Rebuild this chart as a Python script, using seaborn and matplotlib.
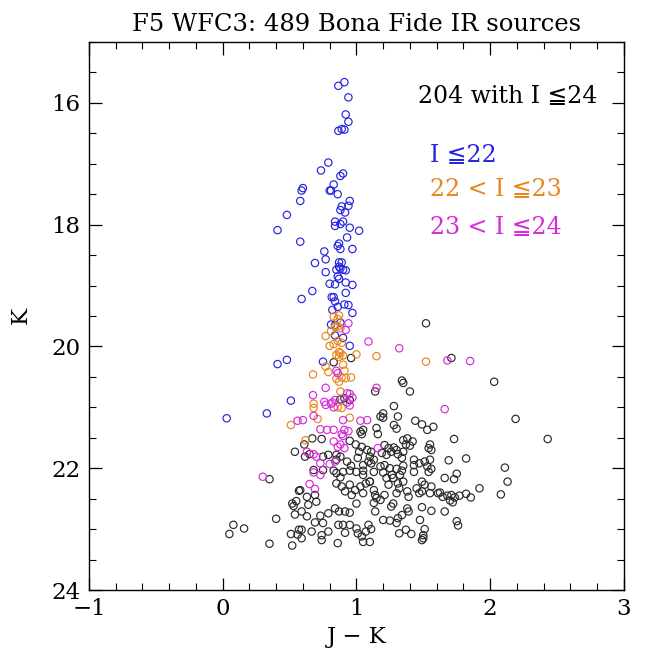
import matplotlib
matplotlib.use("Agg")
import matplotlib.pyplot as plt
import seaborn as sns
import pandas as pd
from matplotlib.ticker import MultipleLocator, FixedLocator

# ---------------- data (J-K, K) ----------------
blue_jk = [0.91,0.865,0.94,0.92,0.94,0.865,0.89,0.91,0.79,0.735,0.88,0.90,0.83,0.60,0.59,0.80,0.81,0.86,0.58,0.95,
           0.94,0.89,0.88,0.915,0.48,0.84,0.90,0.84,0.88,0.95,0.41,1.02,
           0.58,0.93,0.87,0.86,0.88,0.76,0.97,0.77,0.69,0.87,0.89,0.87,0.88,0.85,0.92,0.90,0.77,0.86,0.87,0.80,0.84,
           0.92,0.97,0.67,0.59,0.92,0.815,0.83,0.84,0.91,0.94,0.86,0.82,0.97,
           0.81,0.84,0.88,0.84,0.90,0.95,0.75,0.48,0.41,0.51,0.03,0.33]
blue_k = [15.66,15.72,15.91,16.19,16.31,16.46,16.43,16.44,16.98,17.11,17.20,17.16,17.34,17.40,17.44,17.44,17.44,17.50,17.61,17.61,
          17.69,17.70,17.76,17.80,17.84,17.95,17.95,18.02,17.99,18.05,18.09,18.10,
          18.28,18.21,18.31,18.35,18.40,18.44,18.40,18.57,18.63,18.62,18.62,18.69,18.72,18.74,18.75,18.74,18.78,18.85,18.89,18.97,18.98,
          18.95,18.99,19.09,19.22,19.12,19.19,19.19,19.26,19.31,19.32,19.35,19.40,19.45,
          19.64,19.65,19.61,19.82,19.86,19.99,20.25,20.22,20.29,20.89,21.18,21.10]

orange_jk = [0.83,0.87,0.86,0.84,0.86,0.88,0.81,0.77,0.86,0.89,0.83,1.15,0.80,0.87,0.88,0.85,0.90,0.87,1.00,0.77,
             0.79,0.90,0.91,0.675,0.85,0.89,0.92,0.96,0.87,0.88,1.52,0.51,0.68,0.68,0.86,0.89,0.71,0.95,0.62]
orange_k = [19.51,19.49,19.55,19.68,19.67,19.70,19.75,19.83,19.91,19.94,19.96,20.16,19.99,20.09,20.11,20.14,20.15,20.17,20.13,20.33,
            20.42,20.30,20.40,20.46,20.53,20.51,20.52,20.51,20.58,20.74,20.25,21.29,20.94,21.01,21.00,21.01,21.19,21.17,21.54]

magenta_jk = [0.94,0.92,1.09,0.85,0.86,0.77,0.93,0.95,1.15,0.675,1.32,1.68,1.85,1.66,0.56,0.30,
              0.76,0.77,0.82,0.84,0.83,0.81,0.93,0.95,0.97,0.60,0.68,0.90,1.03,1.08,0.73,0.78,0.83,0.91,0.94,0.89,
              0.90,0.83,0.88,0.86,0.91,0.63,0.68,0.70,0.73,0.80,0.84,0.68,0.73,0.65,0.69,1.16]
magenta_k = [19.62,19.73,19.92,20.40,20.44,20.68,20.77,20.78,20.68,20.80,20.03,20.23,20.24,21.03,21.22,22.14,
             20.91,20.96,20.92,20.88,21.00,20.94,20.92,20.97,20.84,21.21,21.14,21.21,21.22,21.21,21.36,21.37,21.37,21.37,21.39,21.44,
             21.47,21.56,21.61,21.65,21.67,21.73,21.77,21.81,21.92,21.93,21.89,22.07,22.11,22.26,22.34,21.67]

black_jk = [0.96,0.83,1.14,1.52,1.71,1.34,1.35,1.40,2.03,1.28,
            2.19,2.43,1.73,1.82,1.69,2.11,1.75,1.66,1.73,2.13,1.92,2.08,1.625,1.645,1.68,1.71,1.70,1.72,1.735,1.77,1.82,1.855,1.66,1.75,1.76,
            0.54,0.35,0.57,0.52,0.55,0.53,0.54,0.40,0.08,0.16,0.05,0.51,0.56,0.57,0.35,0.52,
            0.88,0.91,0.95,1.03,1.05,1.04,0.67,0.61,0.74,0.95,0.995,1.04,1.02,1.08,0.615,0.65,0.75,0.79,0.85,0.88,0.85,0.93,0.96,1.01,1.05,1.09,
            0.68,0.75,0.83,0.95,1.05,
            0.58,0.63,0.69,0.64,0.70,0.59,0.63,0.69,0.73,0.79,0.84,0.87,0.915,0.95,0.85,0.89,0.915,0.95,0.965,0.99,1.03,1.07,1.05,1.00,1.10,
            0.85,0.88,0.90,1.00,1.05,0.59,0.59,0.665,0.74,0.75,0.79,0.74,0.865,0.90,0.95,0.915,0.86,1.00,1.01,1.04,1.05,1.07,1.09,
            1.20,1.18,1.20,1.31,1.44,1.49,1.53,1.575,1.28,1.30,1.15,1.16,1.35,1.38,1.42,1.37,1.40,1.55,1.54,1.56,1.21,1.24,1.28,1.30,
            1.19,1.225,1.26,1.31,1.35,1.34,1.11,1.10,1.13,1.11,1.43,1.47,1.51,1.55,1.43,1.53,1.56,1.18,1.21,1.25,1.30,1.35,1.34,
            1.13,1.20,1.265,1.275,1.225,1.325,1.35,1.10,1.13,1.14,1.15,1.13,1.24,1.31,1.32,1.30,1.38,1.39,1.43,1.49,1.45,1.47,1.49,
            1.56,1.55,1.61,1.51,1.54,1.18,1.21,1.275,1.26,1.14,1.38,1.39,1.34,1.31,1.30,1.25,1.20,1.49,1.56,1.475,1.51,1.50,1.49,
            1.32,1.37,1.41,1.10,1.11,1.50]
black_k = [20.19,20.26,20.74,19.62,20.19,20.56,20.60,20.74,20.58,20.98,
           21.19,21.52,21.52,21.84,21.87,21.99,22.09,22.16,22.18,22.22,22.33,22.43,22.40,22.47,22.45,22.44,22.53,22.56,22.48,22.45,22.42,22.48,22.71,22.87,22.94,
           21.73,22.18,22.37,22.58,22.54,22.62,22.76,22.83,22.93,22.99,23.08,23.08,23.09,23.01,23.24,23.27,
           20.87,20.85,20.88,21.40,21.37,21.44,21.51,21.61,21.52,21.55,21.61,21.65,21.73,21.70,21.81,21.77,21.81,21.78,21.78,21.81,21.86,21.89,21.96,21.83,21.95,21.89,
           22.03,22.03,22.04,22.04,22.04,
           22.36,22.47,22.44,22.60,22.55,22.71,22.79,22.89,22.78,22.74,22.66,22.71,22.71,22.73,22.25,22.30,22.38,22.27,22.44,22.36,22.30,22.25,22.41,22.58,22.22,
           22.08,22.15,22.06,22.06,22.11,23.01,23.15,23.04,23.10,22.90,23.04,23.18,22.93,22.93,22.93,23.06,23.23,22.99,23.07,23.12,23.21,23.04,22.93,
           21.10,21.15,21.17,21.15,21.22,21.28,21.37,21.32,21.29,21.35,21.34,21.44,21.54,21.51,21.56,21.61,21.63,21.61,21.67,21.70,21.62,21.67,21.66,21.70,
           21.75,21.78,21.73,21.77,21.73,21.83,21.73,21.81,21.86,21.92,21.86,21.92,21.89,21.86,21.95,21.97,22.01,21.97,21.95,22.00,22.01,21.96,22.04,
           22.06,22.07,22.11,22.16,22.16,22.11,22.22,22.22,22.36,22.44,22.49,22.57,22.27,22.25,22.33,22.41,22.38,22.47,22.06,22.22,22.33,22.41,22.38,
           22.30,22.41,22.41,22.27,22.06,22.52,22.44,22.58,22.63,22.71,22.66,22.71,22.77,22.82,22.90,22.86,22.85,22.64,22.70,22.85,23.00,23.15,23.18,
           23.07,23.01,23.08,23.21,23.00,23.10]

groups = ["other", "I<=22", "22<I<=23", "23<I<=24"]
group_colors = ["#2a2a2a", "#2525e0", "#e8861e", "#d82ad8"]
legend_labels = ["I \u226622", "22 < I \u226623", "23 < I \u226624"]
x_ticks = [-1, 0, 1, 2, 3]
y_ticks = [16, 18, 20, 22, 24]

# ---------------- style ----------------
sns.set_theme(style="ticks")
plt.rcParams["font.family"] = ["DejaVu Serif", "DejaVu Sans"]
plt.rcParams["axes.unicode_minus"] = True

fig = plt.figure(figsize=(6.54, 6.51), dpi=100)
ax = fig.add_axes([0.136, 0.0937, 0.818, 0.8418])

series = [(black_jk, black_k), (blue_jk, blue_k), (orange_jk, orange_k), (magenta_jk, magenta_k)]
for (xs, ys), g, c in zip(series, groups, group_colors):
    df = pd.DataFrame({"JK": xs, "K": ys})
    n_before = len(ax.collections)
    sns.scatterplot(data=df, x="JK", y="K", ax=ax, color=c, s=28, linewidth=0.85, legend=False)
    for coll in ax.collections[n_before:]:
        coll.set_facecolor("none")
        coll.set_edgecolor(c)
        coll.set_linewidth(0.85)

ax.set_xlim(-1, 3)
ax.set_ylim(24, 15)
ax.xaxis.set_major_locator(FixedLocator(x_ticks))
ax.xaxis.set_minor_locator(MultipleLocator(0.2))
ax.yaxis.set_major_locator(FixedLocator(y_ticks))
ax.yaxis.set_minor_locator(MultipleLocator(0.5))
ax.tick_params(which="both", direction="in", top=True, right=True, color="black")
ax.tick_params(which="major", length=9, width=0.9, labelsize=16.5, pad=6, labelcolor="black")
ax.tick_params(which="minor", length=5, width=0.8)
for sp in ax.spines.values():
    sp.set_color("black")
    sp.set_linewidth(1.0)

ax.set_xlabel("J \u2212 K", fontsize=16.5, color="black", labelpad=4)
ax.set_ylabel("K", fontsize=16.5, color="black", labelpad=14)
ax.set_title("F5 WFC3: 489 Bona Fide IR sources", fontsize=17.5, color="black", pad=8)

ax.text(1.46, 15.9, "204 with I \u226624", fontsize=17, color="black", va="center", ha="left")
for lbl, c, yy in zip(legend_labels, group_colors[1:], [16.87, 17.43, 18.05]):
    ax.text(1.55, yy, lbl, fontsize=17, color=c, va="center", ha="left")

fig.savefig("out.png", dpi=100)
